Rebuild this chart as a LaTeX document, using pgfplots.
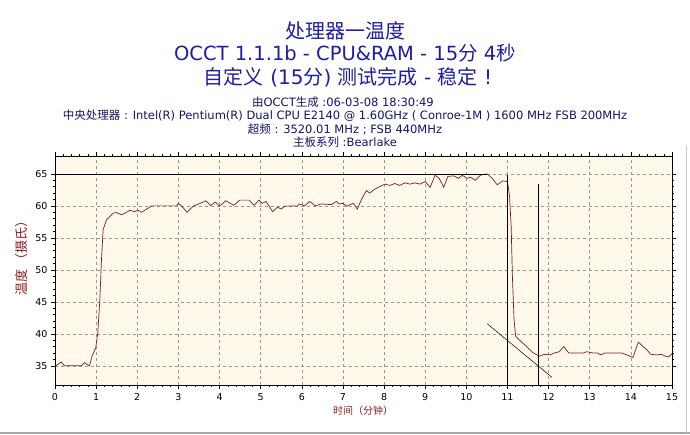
\documentclass[border=0pt]{standalone}
\usepackage{pgfplots}
\pgfplotsset{compat=1.18}
\usepackage{fontspec}
\setmainfont{DejaVu Sans}
\newfontfamily\cjk{Noto Sans CJK SC}
\definecolor{curve}{RGB}{125,30,30}
\definecolor{bgc}{RGB}{255,249,236}
\definecolor{ttl}{RGB}{30,30,165}
\definecolor{info}{RGB}{20,20,110}
\definecolor{lbl}{RGB}{140,30,30}
\begin{document}
\begin{tikzpicture}[x=1pt,y=1pt]
\useasboundingbox[fill=white] (0,0) rectangle (690,435);
\draw[gray!70,line width=1.5pt] (0,2) -- (690,2);
\draw[gray!40,line width=1pt] (686,2) -- (686,290);
% titles
\node[ttl,font=\fontsize{20}{22}\selectfont] at (345,404) {\cjk 处理器一温度};
\node[ttl,font=\fontsize{19.5}{22}\selectfont] at (345,382) {OCCT 1.1.1b - CPU\&RAM - 15{\cjk 分} 4{\cjk 秒}};
\node[ttl,font=\fontsize{20}{22}\selectfont] at (348,358) {{\cjk 自定义} (15{\cjk 分}) {\cjk 测试完成} - {\cjk 稳定} !};
% info
\node[info,font=\fontsize{11.5}{12}\selectfont] at (343,333) {{\cjk 由}OCCT{\cjk 生成} :06-03-08 18:30:49};
\node[info,font=\fontsize{11.5}{12}\selectfont] at (345,319) {{\cjk 中央处理器} : Intel(R) Pentium(R) Dual CPU E2140 @ 1.60GHz ( Conroe-1M ) 1600 MHz FSB 200MHz};
\node[info,font=\fontsize{11.5}{12}\selectfont] at (345,306) {{\cjk 超频} : 3520.01 MHz ; FSB 440MHz};
\node[info,font=\fontsize{11.5}{12}\selectfont] at (345,293) {{\cjk 主板系列} :Bearlake};
\node[lbl,rotate=90,font=\fontsize{13}{14}\selectfont] at (22,180) {\cjk 温度 （摄氏）};
\node[lbl,font=\fontsize{10}{11}\selectfont] at (363,24) {\cjk 时间（分钟）};
\begin{axis}[
  at={(55pt,50pt)}, anchor=south west,
  scale only axis, width=617pt, height=229pt,
  xmin=0, xmax=15, ymin=32, ymax=67.8,
  xtick={0,1,...,15}, ytick={35,40,...,65},
  minor x tick num=4, minor y tick num=4,
  tick align=outside,
  major tick length=4pt, minor tick length=2pt,
  tick style={black, line width=0.5pt},
  grid=major,
  grid style={dashed, gray!80, line width=0.5pt},
  axis background/.style={fill=bgc},
  axis line style={black, line width=0.8pt},
  ticklabel style={font=\fontsize{9.5}{10}\selectfont},
  /pgf/number format/assume math mode=true,
  xticklabel style={yshift=-1pt},
  clip=true,
]
\addplot[curve, line width=0.7pt] coordinates {
(0,34.9)(0.15,35.6)(0.23,35.0)(0.64,35.0)(0.72,35.5)(0.78,35.2)(0.84,35.0)(0.9,36.5)(0.99,37.8)(1.04,40.1)(1.09,45.3)(1.13,51.6)(1.17,56.25)(1.25,57.8)(1.41,58.85)(1.49,58.96)(1.62,58.6)(1.82,59.3)(1.94,59.1)(2.02,59.3)(2.1,59.0)(2.23,59.5)(2.35,60)(2.96,60)(3.0,60.4)(3.09,59.9)(3.21,59.0)(3.37,60)(3.53,60.4)(3.67,60.8)(3.78,60.05)(3.9,60.6)(4.0,59.95)(4.15,60.8)(4.35,60.1)(4.49,60.9)(4.72,60.9)(4.84,60.1)(4.96,60.9)(5.04,60.4)(5.13,60.7)(5.29,59.1)(5.41,59.8)(5.5,59.5)(5.58,59.95)(5.9,60)(5.94,60.3)(6.07,60)(6.19,60.7)(6.33,60)(6.47,60.3)(6.72,60.2)(6.84,60.7)(6.91,60.3)(7.0,60.4)(7.09,59.95)(7.25,60.4)(7.35,59.5)(7.45,61.0)(7.57,62.4)(7.65,62.0)(7.77,62.6)(7.89,63.0)(8.02,63.4)(8.14,63.2)(8.26,63.5)(8.38,63.2)(8.51,63.6)(8.63,63.4)(8.75,63.6)(8.87,63.4)(9.0,63.8)(9.12,62.9)(9.24,64.8)(9.34,64.3)(9.45,62.9)(9.55,64.6)(9.69,64.7)(9.81,64.3)(9.9,64.8)(10.02,64.3)(10.1,64.5)(10.22,64.0)(10.34,64.8)(10.51,65.0)(10.63,64.3)(10.75,63.3)(10.88,63.9)(11.0,63.8)(11.05,61.5)(11.09,56.8)(11.12,49.0)(11.16,42.2)(11.2,39.6)(11.33,38.8)(11.45,38.1)(11.61,37.1)(11.77,36.5)(11.9,36.8)(12.02,36.7)(12.14,37.0)(12.26,37.2)(12.37,38.0)(12.49,37.0)(12.84,37.0)(12.93,37.2)(13.08,37.0)(13.19,37.0)(13.26,36.7)(13.37,37.0)(13.78,37.0)(13.94,36.6)(14.05,36.3)(14.18,38.7)(14.3,38.0)(14.39,37.5)(14.48,36.8)(14.63,36.7)(14.74,36.8)(14.84,36.5)(14.92,36.4)(15.0,36.9)
};
\addplot[black, line width=0.8pt] coordinates {(0,65)(10.51,65)};
\addplot[black, line width=0.8pt] coordinates {(11,64.9)(11,32)};
\addplot[black, line width=0.8pt] coordinates {(11.76,63.4)(11.76,32)};
\addplot[black, line width=0.5pt] coordinates {(10.51,41.56)(12.08,33.2)};
\end{axis}
\end{tikzpicture}
\end{document}
